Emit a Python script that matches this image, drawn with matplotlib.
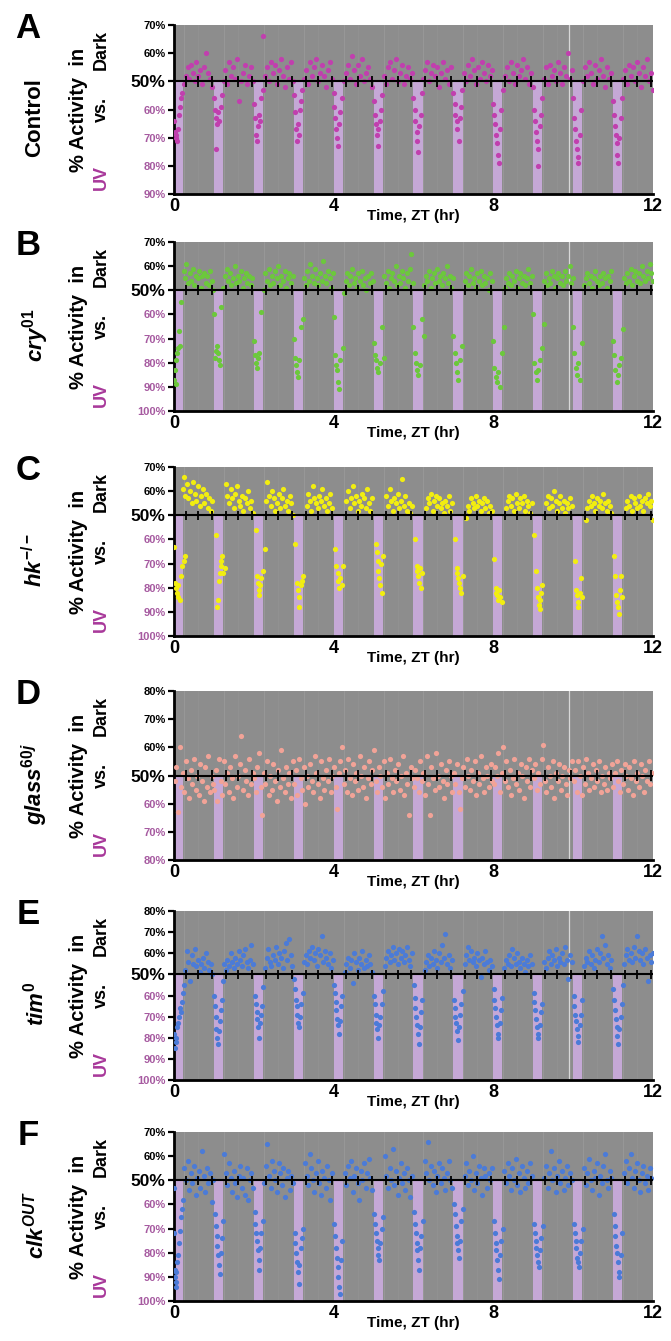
import matplotlib
matplotlib.use('Agg')
import matplotlib.pyplot as plt

plt.rcParams['font.family'] = ['Liberation Sans', 'DejaVu Sans']
plt.rcParams['mathtext.fontset'] = 'custom'
plt.rcParams['mathtext.it'] = 'Liberation Sans:italic:bold'
plt.rcParams['mathtext.rm'] = 'Liberation Sans:bold'
plt.rcParams['mathtext.bf'] = 'Liberation Sans:bold'

# % activity in dark, (time ZT hr, percent)
ctrl_pts = [
    (0.01,36),(0.03,32),(0.04,30),(0.06,31),(0.08,29),(0.10,33),(0.12,38),(0.15,41),(0.18,44),(0.21,46),
    (0.26,49),(0.30,52),(0.34,55),(0.38,51),(0.42,56),(0.47,53),(0.52,50),(0.56,57),(0.61,52),(0.66,54),
    (0.71,49),(0.76,55),(0.81,60),(0.86,53),(0.91,51),(0.96,48),
    (1.00,44),(1.02,40),(1.04,26),(1.06,37),(1.08,35),(1.11,39),(1.14,36),(1.17,41),(1.20,45),
    (1.25,50),(1.29,54),(1.33,49),(1.38,57),(1.43,52),(1.48,55),(1.53,51),(1.58,58),(1.63,43),(1.67,50),
    (1.72,53),(1.77,56),(1.82,49),(1.87,52),(1.92,55),(1.97,50),
    (2.00,42),(2.03,37),(2.05,31),(2.08,29),(2.10,34),(2.13,38),(2.16,36),(2.19,44),(2.22,47),
    (2.23,66),(2.28,52),(2.33,55),(2.37,50),(2.42,57),(2.47,53),(2.52,56),(2.57,49),(2.62,54),(2.67,58),
    (2.72,52),(2.77,48),(2.82,55),(2.87,51),(2.92,57),(2.97,50),
    (3.00,45),(3.02,39),(3.05,33),(3.07,29),(3.10,35),(3.12,31),(3.15,40),(3.18,43),(3.21,47),
    (3.26,51),(3.31,54),(3.36,49),(3.41,57),(3.46,52),(3.51,55),(3.56,58),(3.61,50),(3.66,53),(3.71,56),
    (3.76,52),(3.81,48),(3.86,54),(3.91,57),(3.96,51),
    (4.00,46),(4.02,41),(4.04,37),(4.06,33),(4.09,30),(4.11,27),(4.14,35),(4.17,39),(4.20,44),
    (4.25,50),(4.30,53),(4.35,56),(4.40,51),(4.45,59),(4.50,54),(4.55,49),(4.60,56),(4.65,52),(4.70,58),
    (4.75,50),(4.80,53),(4.85,55),(4.90,51),(4.95,48),
    (5.00,43),(5.03,38),(5.05,35),(5.08,31),(5.10,33),(5.12,27),(5.15,36),(5.18,40),(5.21,45),
    (5.26,52),(5.31,49),(5.36,55),(5.41,57),(5.46,51),(5.51,54),(5.56,58),(5.61,50),(5.66,53),(5.71,56),
    (5.76,49),(5.81,52),(5.86,55),(5.91,51),(5.96,53),
    (6.00,44),(6.03,40),(6.05,36),(6.08,32),(6.10,29),(6.12,25),(6.15,34),(6.18,38),(6.21,46),
    (6.25,51),(6.30,54),(6.35,57),(6.40,50),(6.45,53),(6.50,56),(6.55,52),(6.60,55),(6.65,48),(6.70,53),
    (6.75,57),(6.80,51),(6.85,54),(6.90,49),(6.95,55),
    (7.00,46),(7.03,42),(7.05,38),(7.08,36),(7.10,33),(7.13,29),(7.16,37),(7.19,41),(7.22,47),
    (7.26,53),(7.31,50),(7.36,56),(7.41,52),(7.46,58),(7.51,54),(7.56,49),(7.61,55),(7.66,51),(7.71,57),
    (7.76,53),(7.81,50),(7.86,56),(7.91,52),(7.96,54),
    (8.00,42),(8.03,38),(8.05,35),(8.08,31),(8.10,28),(8.12,24),(8.14,21),(8.17,33),(8.20,40),
    (8.25,47),(8.30,52),(8.35,55),(8.40,50),(8.45,57),(8.50,53),(8.55,49),(8.60,56),(8.65,52),(8.70,54),
    (8.75,58),(8.80,51),(8.85,55),(8.90,49),(8.95,53),
    (9.00,48),(9.02,40),(9.05,36),(9.07,32),(9.09,29),(9.11,26),(9.13,20),(9.16,34),(9.19,38),(9.22,44),
    (9.27,51),(9.32,55),(9.37,49),(9.42,56),(9.47,52),(9.52,54),(9.57,50),(9.62,57),(9.67,53),(9.72,49),
    (9.77,55),(9.82,52),(9.87,60),(9.92,51),(9.97,54),
    (10.00,44),(10.03,37),(10.05,33),(10.07,29),(10.09,26),(10.11,23),(10.13,21),(10.16,31),(10.19,40),
    (10.25,50),(10.30,55),(10.35,52),(10.40,57),(10.45,53),(10.50,49),(10.55,56),(10.60,51),(10.65,54),
    (10.70,58),(10.75,52),(10.80,48),(10.85,55),(10.90,51),(10.95,53),
    (11.00,43),(11.03,38),(11.05,34),(11.07,31),(11.09,28),(11.11,24),(11.13,21),(11.16,30),(11.19,37),
    (11.22,44),(11.26,51),(11.31,54),(11.36,49),(11.41,56),(11.46,52),(11.51,55),(11.56,50),(11.61,57),
    (11.66,53),(11.71,48),(11.76,55),(11.81,52),(11.86,58),(11.91,50),(11.96,53),(11.99,47),
]

cry_pts = [
    (0.01,13),(0.02,17),(0.04,11),(0.06,21),(0.08,24),(0.10,26),(0.12,33),(0.15,27),(0.18,45),
    (0.24,58),(0.28,55),(0.31,61),(0.35,53),(0.39,57),(0.43,54),(0.47,59),(0.51,52),(0.55,56),(0.59,55),
    (0.63,58),(0.67,51),(0.71,56),(0.75,57),(0.79,53),(0.83,56),(0.87,52),(0.91,58),(0.95,54),(0.98,50),
    (1.00,40),(1.03,22),(1.05,25),(1.07,27),(1.10,24),(1.12,21),(1.15,19),(1.19,43),
    (1.24,51),(1.28,56),(1.32,59),(1.36,54),(1.40,57),(1.44,52),(1.48,55),(1.52,60),(1.56,53),(1.60,56),
    (1.64,54),(1.68,58),(1.72,51),(1.76,55),(1.80,57),(1.84,53),(1.88,56),(1.92,52),(1.96,55),
    (2.00,29),(2.03,23),(2.05,20),(2.08,18),(2.11,22),(2.14,24),(2.17,41),
    (2.25,50),(2.29,57),(2.33,54),(2.37,59),(2.41,52),(2.45,56),(2.49,53),(2.53,58),(2.57,55),(2.61,60),
    (2.65,52),(2.69,56),(2.73,54),(2.77,58),(2.81,51),(2.85,55),(2.89,57),(2.93,53),(2.97,56),
    (3.00,30),(3.03,22),(3.05,19),(3.08,16),(3.10,14),(3.14,21),(3.18,35),(3.22,38),
    (3.26,55),(3.30,52),(3.34,58),(3.38,54),(3.42,61),(3.46,56),(3.50,53),(3.54,59),(3.58,55),(3.62,52),
    (3.66,57),(3.70,54),(3.74,62),(3.78,56),(3.82,53),(3.86,58),(3.90,55),(3.94,51),(3.98,57),
    (4.00,39),(4.03,23),(4.05,19),(4.08,17),(4.10,12),(4.13,9),(4.17,21),(4.24,26),
    (4.26,49),(4.30,54),(4.34,57),(4.38,52),(4.42,56),(4.46,59),(4.50,53),(4.54,55),(4.58,51),(4.62,57),
    (4.66,54),(4.70,58),(4.74,52),(4.78,55),(4.82,50),(4.86,56),(4.90,53),(4.94,57),(4.98,54),
    (5.00,28),(5.03,23),(5.05,21),(5.08,18),(5.11,16),(5.15,20),(5.20,35),(5.25,22),
    (5.27,56),(5.31,53),(5.35,58),(5.39,51),(5.43,55),(5.47,57),(5.51,54),(5.55,60),(5.59,52),(5.63,56),
    (5.67,53),(5.71,58),(5.75,55),(5.79,51),(5.83,57),(5.87,54),(5.91,59),(5.95,65),(5.98,53),
    (6.00,35),(6.03,24),(6.06,20),(6.09,17),(6.12,15),(6.16,19),(6.22,38),(6.26,31),
    (6.27,52),(6.31,56),(6.35,54),(6.39,58),(6.43,51),(6.47,55),(6.51,57),(6.55,53),(6.59,59),(6.63,54),
    (6.67,56),(6.71,52),(6.75,57),(6.79,55),(6.83,60),(6.87,53),(6.91,56),(6.95,51),(6.99,55),
    (7.00,31),(7.03,24),(7.06,20),(7.09,16),(7.12,13),(7.16,21),(7.22,27),
    (7.28,54),(7.32,57),(7.36,52),(7.40,56),(7.44,59),(7.48,53),(7.52,55),(7.56,51),(7.60,57),(7.64,54),
    (7.68,58),(7.72,52),(7.76,56),(7.80,53),(7.84,55),(7.88,50),(7.92,57),(7.96,54),
    (8.00,29),(8.03,18),(8.06,14),(8.09,12),(8.12,16),(8.16,10),(8.22,24),(8.28,35),
    (8.30,51),(8.32,55),(8.36,53),(8.40,57),(8.44,52),(8.48,56),(8.52,54),(8.56,58),(8.60,51),(8.64,55),
    (8.68,57),(8.72,53),(8.76,56),(8.80,52),(8.84,55),(8.88,59),(8.92,53),(8.96,56),
    (9.00,40),(9.03,20),(9.06,16),(9.09,13),(9.12,17),(9.16,21),(9.22,26),(9.28,36),
    (9.27,54),(9.31,57),(9.35,52),(9.39,55),(9.43,53),(9.47,58),(9.51,56),(9.55,51),(9.59,55),(9.63,57),
    (9.67,53),(9.71,56),(9.75,52),(9.79,58),(9.83,54),(9.87,56),(9.91,60),(9.95,53),(9.99,55),
    (10.00,35),(10.03,24),(10.06,18),(10.09,15),(10.12,20),(10.16,13),(10.22,28),
    (10.28,52),(10.32,55),(10.36,57),(10.40,53),(10.44,56),(10.48,51),(10.52,55),(10.56,58),(10.60,54),
    (10.64,52),(10.68,56),(10.72,53),(10.76,57),(10.80,55),(10.84,51),(10.88,56),(10.92,54),(10.96,58),
    (11.00,29),(11.03,23),(11.06,17),(11.09,12),(11.12,15),(11.16,19),(11.20,22),(11.25,34),
    (11.28,55),(11.32,53),(11.36,57),(11.40,54),(11.44,59),(11.48,52),(11.52,56),(11.56,58),(11.60,54),
    (11.64,57),(11.68,53),(11.72,60),(11.76,56),(11.80,54),(11.84,58),(11.88,55),(11.92,61),(11.96,57),
    (11.99,54),
]

hk_pts = [
    (0.01,37),(0.03,22),(0.05,20),(0.07,18),(0.09,16),(0.11,21),(0.14,15),(0.18,25),(0.21,29),(0.24,31),
    (0.27,33),
    (0.22,61),(0.25,66),(0.28,58),(0.32,63),(0.36,57),(0.40,60),(0.44,55),(0.48,64),(0.52,59),(0.56,56),
    (0.60,62),(0.64,54),(0.68,58),(0.72,61),(0.76,55),(0.80,59),(0.84,53),(0.88,57),(0.92,52),(0.96,56),
    (1.06,42),(1.09,12),(1.11,15),(1.13,23),(1.15,26),(1.17,29),(1.19,31),(1.21,33),(1.24,26),(1.27,28),
    (1.30,63),(1.34,58),(1.38,55),(1.42,61),(1.46,57),(1.50,53),(1.54,59),(1.58,62),(1.62,56),(1.66,54),
    (1.70,58),(1.74,52),(1.78,57),(1.82,55),(1.86,60),(1.90,53),(1.94,56),(1.98,51),
    (2.05,44),(2.08,25),(2.10,22),(2.12,19),(2.14,17),(2.16,21),(2.18,24),(2.22,27),(2.28,36),
    (2.30,56),(2.34,64),(2.38,58),(2.42,54),(2.46,60),(2.50,57),(2.54,52),(2.58,55),(2.62,59),(2.66,53),
    (2.70,57),(2.74,61),(2.78,54),(2.82,56),(2.86,52),(2.90,58),(2.94,55),(2.98,50),
    (3.04,38),(3.07,22),(3.10,19),(3.12,16),(3.14,12),(3.17,21),(3.20,23),(3.24,25),
    (3.32,54),(3.36,59),(3.40,56),(3.44,52),(3.48,62),(3.52,57),(3.56,55),(3.60,53),(3.64,58),(3.68,56),
    (3.72,61),(3.76,54),(3.80,57),(3.84,52),(3.88,55),(3.92,59),(3.96,53),
    (4.03,36),(4.07,29),(4.10,26),(4.12,23),(4.14,20),(4.17,24),(4.20,21),(4.24,29),
    (4.32,56),(4.36,60),(4.40,53),(4.44,57),(4.48,62),(4.52,55),(4.56,58),(4.60,52),(4.64,56),(4.68,54),
    (4.72,59),(4.76,57),(4.80,53),(4.84,61),(4.88,55),(4.92,52),(4.96,57),
    (5.05,38),(5.08,35),(5.10,31),(5.12,27),(5.14,24),(5.16,21),(5.18,30),(5.20,18),(5.23,33),
    (5.32,58),(5.36,54),(5.40,61),(5.44,56),(5.48,52),(5.52,57),(5.56,55),(5.60,59),(5.64,53),(5.68,56),
    (5.72,65),(5.76,54),(5.80,58),(5.84,52),(5.88,55),(5.92,51),(5.96,54),
    (6.05,40),(6.08,29),(6.10,27),(6.12,25),(6.14,22),(6.16,28),(6.19,20),(6.22,26),
    (6.32,53),(6.36,57),(6.40,55),(6.44,59),(6.48,52),(6.52,56),(6.56,58),(6.60,54),(6.64,57),(6.68,53),
    (6.72,55),(6.76,51),(6.80,56),(6.84,54),(6.88,58),(6.92,52),(6.96,55),
    (7.05,40),(7.08,28),(7.10,26),(7.12,24),(7.14,22),(7.17,20),(7.20,18),(7.24,25),
    (7.32,49),(7.36,54),(7.40,52),(7.44,57),(7.48,55),(7.52,53),(7.56,58),(7.60,54),(7.64,56),(7.68,52),
    (7.72,55),(7.76,57),(7.80,53),(7.84,56),(7.88,51),(7.92,54),(7.96,52),
    (8.03,32),(8.06,20),(8.08,18),(8.10,17),(8.12,15),(8.15,19),(8.18,16),(8.22,14),
    (8.32,53),(8.36,56),(8.40,58),(8.44,54),(8.48,57),(8.52,52),(8.56,59),(8.60,55),(8.64,53),(8.68,57),
    (8.72,55),(8.76,58),(8.80,52),(8.84,56),(8.88,54),(8.92,51),(8.96,55),
    (9.03,42),(9.06,27),(9.09,20),(9.12,16),(9.14,13),(9.16,11),(9.18,15),(9.20,18),(9.22,21),
    (9.32,55),(9.36,58),(9.40,53),(9.44,57),(9.48,54),(9.52,60),(9.56,56),(9.60,52),(9.64,55),(9.68,58),
    (9.72,53),(9.76,56),(9.80,51),(9.84,55),(9.88,53),(9.92,57),(9.96,54),
    (10.04,31),(10.07,19),(10.09,17),(10.11,14),(10.13,12),(10.16,18),(10.19,24),(10.22,16),
    (10.32,48),(10.36,53),(10.40,56),(10.44,54),(10.48,58),(10.52,55),(10.56,52),(10.60,57),(10.64,54),
    (10.68,56),(10.72,53),(10.76,59),(10.80,55),(10.84,52),(10.88,56),(10.92,54),(10.96,51),
    (11.03,33),(11.06,25),(11.08,17),(11.10,14),(11.12,12),(11.14,9),(11.17,19),(11.20,25),(11.23,16),
    (11.32,53),(11.36,56),(11.40,54),(11.44,58),(11.48,52),(11.52,57),(11.56,55),(11.60,53),(11.64,58),
    (11.68,54),(11.72,56),(11.76,52),(11.80,57),(11.84,55),(11.88,59),(11.92,54),(11.96,56),(11.99,48),
]

glass_pts = [
    (0.02,48),(0.06,53),(0.10,37),(0.14,60),(0.18,46),(0.22,51),(0.26,44),(0.30,55),(0.34,49),(0.38,42),
    (0.42,52),(0.46,47),(0.50,56),(0.54,45),(0.58,50),(0.62,43),(0.66,54),(0.70,48),(0.74,41),(0.78,53),
    (0.82,46),(0.86,57),(0.90,44),(0.94,50),(0.98,47),
    (1.01,45),(1.05,52),(1.09,41),(1.13,56),(1.17,48),(1.21,43),(1.25,55),(1.29,47),(1.33,51),(1.37,44),
    (1.41,53),(1.45,49),(1.49,42),(1.53,57),(1.57,46),(1.61,50),(1.65,54),(1.69,64),(1.73,45),(1.77,52),
    (1.81,48),(1.85,43),(1.89,56),(1.93,47),(1.97,51),
    (2.01,49),(2.05,44),(2.09,53),(2.13,58),(2.17,46),(2.21,36),(2.25,51),(2.29,47),(2.33,55),(2.37,43),
    (2.41,50),(2.45,45),(2.49,54),(2.53,48),(2.57,41),(2.61,52),(2.65,46),(2.69,59),(2.73,49),(2.77,44),
    (2.81,53),(2.85,47),(2.89,51),(2.93,42),(2.97,55),
    (3.01,47),(3.05,52),(3.09,43),(3.13,56),(3.17,49),(3.21,45),(3.25,53),(3.29,40),(3.33,50),(3.37,46),
    (3.41,54),(3.45,48),(3.49,44),(3.53,57),(3.57,51),(3.61,47),(3.65,42),(3.69,55),(3.73,49),(3.77,45),
    (3.81,52),(3.85,48),(3.89,56),(3.93,44),(3.97,50),
    (4.01,53),(4.05,46),(4.09,38),(4.13,51),(4.17,55),(4.21,60),(4.25,47),(4.29,52),(4.33,44),(4.37,56),
    (4.41,49),(4.45,43),(4.49,54),(4.53,48),(4.57,51),(4.61,45),(4.65,57),(4.69,50),(4.73,46),(4.77,53),
    (4.81,42),(4.85,49),(4.89,55),(4.93,47),(4.97,52),
    (5.01,59),(5.05,48),(5.09,44),(5.13,53),(5.17,50),(5.21,46),(5.25,55),(5.29,42),(5.33,51),(5.37,47),
    (5.41,56),(5.45,49),(5.49,44),(5.53,52),(5.57,48),(5.61,54),(5.65,45),(5.69,50),(5.73,57),(5.77,43),
    (5.81,51),(5.85,47),(5.89,36),(5.93,53),(5.97,49),
    (6.01,46),(6.05,52),(6.09,49),(6.13,44),(6.17,55),(6.21,48),(6.25,51),(6.29,43),(6.33,57),(6.37,47),
    (6.41,36),(6.45,53),(6.49,49),(6.53,45),(6.57,58),(6.61,50),(6.65,46),(6.69,54),(6.73,48),(6.77,42),
    (6.81,52),(6.85,47),(6.89,55),(6.93,50),(6.97,44),
    (7.01,51),(7.05,47),(7.09,54),(7.13,44),(7.17,38),(7.21,49),(7.25,53),(7.29,46),(7.33,56),(7.37,50),
    (7.41,45),(7.45,52),(7.49,48),(7.53,55),(7.57,43),(7.61,51),(7.65,47),(7.69,57),(7.73,49),(7.77,44),
    (7.81,53),(7.85,50),(7.89,46),(7.93,54),(7.97,48),
    (8.01,47),(8.05,53),(8.09,50),(8.13,58),(8.17,44),(8.21,51),(8.25,60),(8.29,48),(8.33,55),(8.37,46),
    (8.41,52),(8.45,43),(8.49,49),(8.53,56),(8.57,47),(8.61,51),(8.65,45),(8.69,54),(8.73,50),(8.77,42),
    (8.81,53),(8.85,48),(8.89,56),(8.93,46),(8.97,52),
    (9.01,49),(9.05,54),(9.09,45),(9.13,51),(9.17,47),(9.21,56),(9.25,61),(9.29,48),(9.33,44),(9.37,53),
    (9.41,50),(9.45,46),(9.49,55),(9.53,42),(9.57,51),(9.61,48),(9.65,54),(9.69,45),(9.73,50),(9.77,53),
    (9.81,47),(9.85,43),(9.89,52),(9.93,49),(9.97,55),
    (10.01,48),(10.05,52),(10.09,44),(10.13,55),(10.17,50),(10.21,43),(10.25,53),(10.29,47),(10.33,56),
    (10.37,51),(10.41,45),(10.45,49),(10.49,54),(10.53,46),(10.57,52),(10.61,48),(10.65,55),(10.69,44),
    (10.73,50),(10.77,47),(10.81,53),(10.85,45),(10.89,51),(10.93,49),(10.97,54),
    (11.01,46),(11.05,51),(11.09,55),(11.13,48),(11.17,44),(11.21,52),(11.25,47),(11.29,54),(11.33,50),
    (11.37,45),(11.41,53),(11.45,49),(11.49,43),(11.53,55),(11.57,48),(11.61,51),(11.65,46),(11.69,54),
    (11.73,50),(11.77,44),(11.81,52),(11.85,48),(11.89,55),(11.93,47),(11.97,51),
]

tim_pts = [
    (0.01,22),(0.02,15),(0.04,18),(0.06,20),(0.08,25),(0.10,27),(0.12,30),(0.14,34),(0.17,32),(0.20,37),
    (0.23,41),(0.26,45),
    (0.28,52),(0.32,61),(0.36,56),(0.40,47),(0.44,59),(0.48,55),(0.52,62),(0.56,54),(0.60,57),(0.64,51),
    (0.68,55),(0.72,58),(0.76,53),(0.80,60),(0.84,56),(0.88,52),(0.92,55),(0.96,50),
    (1.00,40),(1.02,35),(1.04,30),(1.06,24),(1.08,20),(1.10,17),(1.12,23),(1.15,28),(1.18,33),(1.21,38),
    (1.24,47),
    (1.26,55),(1.30,52),(1.34,57),(1.38,54),(1.42,60),(1.46,56),(1.50,53),(1.54,58),(1.58,55),(1.62,61),
    (1.66,57),(1.70,54),(1.74,59),(1.78,62),(1.82,56),(1.86,53),(1.90,57),(1.94,64),(1.98,55),
    (2.03,40),(2.05,36),(2.07,32),(2.09,29),(2.11,25),(2.13,20),(2.15,27),(2.18,31),(2.21,35),(2.24,44),
    (2.28,53),(2.32,58),(2.36,62),(2.40,56),(2.44,54),(2.48,59),(2.52,57),(2.56,63),(2.60,55),(2.64,60),
    (2.68,58),(2.72,53),(2.76,61),(2.80,65),(2.84,57),(2.88,67),(2.92,59),(2.96,54),
    (3.01,48),(3.03,43),(3.05,38),(3.07,35),(3.09,31),(3.11,27),(3.13,25),(3.16,30),(3.19,36),(3.22,41),
    (3.26,56),(3.30,59),(3.34,55),(3.38,61),(3.42,58),(3.46,63),(3.50,57),(3.54,60),(3.58,54),(3.62,62),
    (3.66,59),(3.70,68),(3.74,56),(3.78,61),(3.82,58),(3.86,55),(3.90,60),(3.94,53),(3.98,57),
    (4.01,45),(4.03,41),(4.05,37),(4.07,33),(4.09,29),(4.11,26),(4.13,22),(4.16,28),(4.19,35),(4.22,40),
    (4.28,51),(4.32,55),(4.36,58),(4.40,53),(4.44,57),(4.48,46),(4.52,60),(4.56,56),(4.60,52),(4.64,58),
    (4.68,55),(4.72,61),(4.76,53),(4.80,57),(4.84,54),(4.88,59),(4.92,55),(4.96,51),
    (5.01,40),(5.03,36),(5.05,31),(5.07,27),(5.09,24),(5.11,20),(5.14,26),(5.17,30),(5.20,36),(5.23,42),
    (5.28,54),(5.32,58),(5.36,61),(5.40,56),(5.44,59),(5.48,63),(5.52,57),(5.56,60),(5.60,55),(5.64,62),
    (5.68,58),(5.72,61),(5.76,56),(5.80,59),(5.84,63),(5.88,57),(5.92,54),(5.96,60),
    (6.01,45),(6.03,39),(6.05,34),(6.07,30),(6.09,26),(6.11,22),(6.13,17),(6.16,25),(6.19,32),(6.22,38),
    (6.28,52),(6.32,56),(6.36,59),(6.40,54),(6.44,58),(6.48,55),(6.52,61),(6.56,57),(6.60,53),(6.64,60),
    (6.68,56),(6.72,64),(6.76,58),(6.80,69),(6.84,55),(6.88,59),(6.92,53),(6.96,57),
    (7.01,38),(7.03,34),(7.05,30),(7.07,27),(7.09,23),(7.11,19),(7.14,25),(7.17,31),(7.20,36),(7.23,42),
    (7.28,55),(7.32,59),(7.36,63),(7.40,57),(7.44,61),(7.48,56),(7.52,58),(7.56,54),(7.60,60),(7.64,57),
    (7.68,49),(7.72,58),(7.76,55),(7.80,61),(7.84,56),(7.88,52),(7.92,57),(7.96,54),
    (8.01,43),(8.03,38),(8.05,34),(8.07,30),(8.09,26),(8.11,22),(8.13,20),(8.16,27),(8.19,33),(8.22,39),
    (8.28,53),(8.32,57),(8.36,55),(8.40,59),(8.44,54),(8.48,62),(8.52,58),(8.56,55),(8.60,60),(8.64,56),
    (8.68,53),(8.72,58),(8.76,55),(8.80,51),(8.84,57),(8.88,54),(8.92,59),(8.96,55),
    (9.01,41),(9.03,37),(9.05,33),(9.07,29),(9.09,25),(9.11,22),(9.13,20),(9.16,26),(9.19,32),(9.22,36),
    (9.28,56),(9.32,53),(9.36,58),(9.40,61),(9.44,55),(9.48,59),(9.52,57),(9.56,62),(9.60,54),(9.64,58),
    (9.68,56),(9.72,60),(9.76,55),(9.80,63),(9.84,57),(9.88,48),(9.92,59),(9.96,56),
    (10.01,40),(10.03,35),(10.05,31),(10.07,28),(10.09,24),(10.11,21),(10.13,18),(10.16,26),(10.19,31),
    (10.22,38),
    (10.28,54),(10.32,58),(10.36,56),(10.40,61),(10.44,55),(10.48,59),(10.52,53),(10.56,57),(10.60,62),
    (10.64,56),(10.68,60),(10.72,68),(10.76,58),(10.80,64),(10.84,55),(10.88,59),(10.92,53),(10.96,57),
    (11.01,43),(11.03,38),(11.05,33),(11.07,29),(11.09,25),(11.11,21),(11.13,17),(11.16,24),(11.19,30),
    (11.22,36),(11.25,45),
    (11.28,55),(11.32,59),(11.36,62),(11.40,57),(11.44,60),(11.48,56),(11.52,63),(11.56,58),(11.60,68),
    (11.64,61),(11.68,57),(11.72,60),(11.76,55),(11.80,62),(11.84,58),(11.88,47),(11.92,59),(11.96,56),
    (11.99,60),
]

clk_pts = [
    (0.00,47),(0.01,28),(0.02,13),(0.03,10),(0.04,8),(0.05,6),(0.06,12),(0.08,16),(0.10,19),(0.12,24),
    (0.14,29),(0.17,35),(0.20,38),(0.23,42),
    (0.26,55),(0.30,50),(0.34,58),(0.38,46),(0.42,53),(0.46,49),(0.50,56),(0.54,44),(0.58,51),(0.62,54),
    (0.66,47),(0.70,62),(0.74,52),(0.78,45),(0.82,55),(0.86,49),(0.90,53),(0.94,41),(0.98,50),
    (1.03,36),(1.05,31),(1.07,27),(1.09,23),(1.11,19),(1.13,15),(1.15,11),(1.17,20),(1.20,26),(1.24,33),
    (1.26,61),(1.30,53),(1.34,48),(1.38,57),(1.42,51),(1.46,45),(1.50,54),(1.54,49),(1.58,43),(1.62,52),
    (1.66,56),(1.70,47),(1.74,51),(1.78,44),(1.82,55),(1.86,42),(1.90,50),(1.94,53),(1.98,47),
    (2.02,37),(2.04,32),(2.06,28),(2.08,25),(2.10,21),(2.12,17),(2.14,13),(2.16,22),(2.19,28),(2.23,33),
    (2.26,49),(2.30,56),(2.34,65),(2.38,52),(2.42,47),(2.46,58),(2.50,54),(2.54,50),(2.58,45),(2.62,57),
    (2.66,53),(2.70,48),(2.74,55),(2.78,43),(2.82,51),(2.86,54),(2.90,46),(2.94,52),(2.98,49),
    (3.02,28),(3.04,24),(3.06,20),(3.08,16),(3.10,12),(3.12,7),(3.14,15),(3.17,22),(3.20,26),(3.24,30),
    (3.28,57),(3.32,52),(3.36,48),(3.40,61),(3.44,55),(3.48,50),(3.52,45),(3.56,53),(3.60,58),(3.64,49),
    (3.68,44),(3.72,54),(3.76,51),(3.80,47),(3.84,56),(3.88,50),(3.92,42),(3.96,53),
    (4.02,32),(4.04,27),(4.06,22),(4.08,18),(4.10,14),(4.12,10),(4.14,6),(4.16,3),(4.18,17),(4.22,25),
    (4.28,53),(4.32,48),(4.36,56),(4.40,51),(4.44,58),(4.48,45),(4.52,52),(4.56,55),(4.60,49),(4.64,42),
    (4.68,54),(4.72,50),(4.76,57),(4.80,47),(4.84,53),(4.88,59),(4.92,51),(4.96,46),
    (5.02,36),(5.04,32),(5.06,28),(5.08,25),(5.10,22),(5.12,19),(5.14,17),(5.17,24),(5.20,30),(5.24,35),
    (5.28,60),(5.32,52),(5.36,47),(5.40,55),(5.44,50),(5.48,63),(5.52,48),(5.56,54),(5.60,44),(5.64,51),
    (5.68,57),(5.72,49),(5.76,53),(5.80,46),(5.84,55),(5.88,50),(5.92,43),(5.96,52),
    (6.02,37),(6.04,32),(6.06,28),(6.08,24),(6.10,21),(6.12,17),(6.14,13),(6.17,22),(6.20,27),(6.24,33),
    (6.28,58),(6.32,53),(6.36,66),(6.40,50),(6.44,56),(6.48,48),(6.52,54),(6.56,45),(6.60,52),(6.64,57),
    (6.68,49),(6.72,55),(6.76,51),(6.80,46),(6.84,53),(6.88,58),(6.92,50),(6.96,47),
    (7.02,40),(7.04,36),(7.06,31),(7.08,27),(7.10,24),(7.12,21),(7.14,18),(7.17,25),(7.20,33),(7.24,38),
    (7.28,52),(7.32,57),(7.36,48),(7.40,54),(7.44,50),(7.48,60),(7.52,46),(7.56,53),(7.60,49),(7.64,56),
    (7.68,51),(7.72,44),(7.76,55),(7.80,52),(7.84,47),(7.88,53),(7.92,50),(7.96,55),
    (8.02,33),(8.04,28),(8.06,24),(8.08,21),(8.10,17),(8.12,13),(8.14,9),(8.17,19),(8.20,25),(8.24,30),
    (8.28,54),(8.32,49),(8.36,57),(8.40,52),(8.44,46),(8.48,55),(8.52,50),(8.56,59),(8.60,48),(8.64,53),
    (8.68,45),(8.72,56),(8.76,51),(8.80,47),(8.84,54),(8.88,49),(8.92,57),(8.96,52),
    (9.02,32),(9.04,28),(9.06,25),(9.08,22),(9.10,19),(9.12,16),(9.14,14),(9.17,21),(9.20,26),(9.24,31),
    (9.28,51),(9.32,56),(9.36,47),(9.40,53),(9.44,62),(9.48,50),(9.52,55),(9.56,45),(9.60,52),(9.64,58),
    (9.68,49),(9.72,54),(9.76,46),(9.80,51),(9.84,56),(9.88,48),(9.92,53),(9.96,50),
    (10.02,32),(10.04,28),(10.06,25),(10.08,22),(10.10,18),(10.12,16),(10.14,14),(10.17,20),(10.20,25),
    (10.24,30),
    (10.28,55),(10.32,48),(10.36,53),(10.40,59),(10.44,50),(10.48,46),(10.52,54),(10.56,51),(10.60,57),
    (10.64,44),(10.68,52),(10.72,49),(10.76,56),(10.80,61),(10.84,50),(10.88,47),(10.92,54),(10.96,51),
    (11.02,36),(11.04,31),(11.06,27),(11.08,23),(11.10,20),(11.12,16),(11.14,12),(11.16,10),(11.19,19),
    (11.23,28),
    (11.28,53),(11.32,58),(11.36,49),(11.40,55),(11.44,61),(11.48,51),(11.52,47),(11.56,54),(11.60,57),
    (11.64,50),(11.68,45),(11.72,53),(11.76,56),(11.80,49),(11.84,52),(11.88,46),(11.92,55),(11.96,51),
]

# UV pulse onsets (hr) and pulse length
uv_on = [0, 1, 2, 3, 4, 5, 6, 7, 8, 9, 10, 11]
uv_len = 0.23
# mean +/- error markers on the 50% line
err_t = [0.3, 0.6, 0.95, 1.3, 1.6, 1.95, 2.3, 2.6, 2.95, 3.3, 3.6, 3.95, 4.3, 4.6, 4.95,
         5.3, 5.6, 5.95, 6.3, 6.6, 6.95, 7.3, 7.6, 7.95, 8.3, 8.6, 8.95, 9.3, 9.6, 9.95,
         10.3, 10.6, 10.95, 11.3, 11.6, 11.95]
err_mean = 50
err_sd = 2

letters = ['A', 'B', 'C', 'D', 'E', 'F']
genotypes = ['Control', r'$\mathit{cry}^{\mathit{01}}$', r'$\mathit{hk}^{\mathit{-/-}}$',
             r'$\mathit{glass}^{\mathit{60j}}$', r'$\mathit{tim}^{\mathit{0}}$',
             r'$\mathit{clk}^{\mathit{OUT}}$']
datasets = [ctrl_pts, cry_pts, hk_pts, glass_pts, tim_pts, clk_pts]
dot_colors = ['#c13fae', '#6cc83c', '#f2ee10', '#f2a397', '#4b7bd8', '#4b7bd8']
y_ranges = [(10, 70), (0, 70), (0, 70), (20, 80), (0, 80), (0, 70)]

UV_TXT = '#a8389a'
UV_TICK = '#a65aa0'
BG = '#8d8d8d'
STRIP = '#c5a8d6'

fig = plt.figure(figsize=(6.71, 13.41), dpi=100)
bottoms = [0.8553, 0.6935, 0.5257, 0.3587, 0.1946, 0.0298]

for i in range(6):
    ylo, yhi = y_ranges[i]
    ax = fig.add_axes([0.2593, bottoms[i], 0.7138, 0.126])
    ax.set_facecolor(BG)
    ax.set_xlim(0, 12)
    ax.set_ylim(ylo, yhi)

    # UV pulses: lavender strips from the floor up to 50%
    ax.bar(uv_on, [50 - ylo] * len(uv_on), width=uv_len, bottom=ylo, align='edge',
           color=STRIP, zorder=1, linewidth=0)
    for s in uv_on:
        ax.axvline(s + uv_len + 0.02, color='#999999', lw=0.6, zorder=0.5)
        ax.axvline(s + 0.6, color='#939393', lw=0.5, zorder=0.5)
    if i != 2 and i != 5:
        ax.axvline(9.9, color='#d8d8d8', lw=0.9, zorder=0.6)

    t = [p[0] for p in datasets[i]]
    v = [p[1] for p in datasets[i]]
    ax.scatter(t, v, s=14, color=dot_colors[i], linewidths=0, zorder=3)

    ax.axhline(err_mean, color='black', lw=1.5, zorder=4)
    ax.errorbar(err_t, [err_mean] * len(err_t), yerr=err_sd, fmt='none',
                ecolor='black', elinewidth=1.3, zorder=4)

    ticks = list(range(ylo, yhi + 1, 10))
    ax.set_yticks(ticks)
    labs = [f'{v_}%' if v_ >= 50 else f'{100 - v_}%' for v_ in ticks]
    ax.set_yticklabels(labs)
    for v_, tl in zip(ticks, ax.get_yticklabels()):
        tl.set_fontweight('bold')
        if v_ == 50:
            tl.set_fontsize(12.5)
            tl.set_color('black')
        elif v_ > 50:
            tl.set_fontsize(8)
            tl.set_color('black')
        else:
            tl.set_fontsize(8)
            tl.set_color(UV_TICK)
    ax.tick_params(axis='y', direction='out', length=4, width=1.6, pad=2)

    ax.set_xticks([0, 4, 8, 12])
    ax.set_xticklabels(['0', '4', '8', '12'], fontsize=13, fontweight='bold')
    ax.tick_params(axis='x', length=0, pad=3)
    for sp in ['top', 'right']:
        ax.spines[sp].set_visible(False)
    for sp in ['left', 'bottom']:
        ax.spines[sp].set_linewidth(2)
        ax.spines[sp].set_color('black')

    ax.text(0.5, -0.13, 'Time, ZT (hr)', transform=ax.transAxes, ha='center', va='center',
            fontsize=11, fontweight='bold')

    # y label, two rotated lines
    ax.text(-0.2, 0.5, '% Activity  in', transform=ax.transAxes, rotation=90,
            ha='center', va='center', fontsize=14.5, fontweight='bold')
    ax.text(-0.152, 0.1, 'UV', transform=ax.transAxes, rotation=90,
            ha='center', va='center', fontsize=13, fontweight='bold', color=UV_TXT)
    ax.text(-0.152, 0.5, 'vs.', transform=ax.transAxes, rotation=90,
            ha='center', va='center', fontsize=13, fontweight='bold')
    ax.text(-0.152, 0.85, 'Dark', transform=ax.transAxes, rotation=90,
            ha='center', va='center', fontsize=13, fontweight='bold')

    ax.text(-0.305, 0.98, letters[i], transform=ax.transAxes, ha='center', va='center',
            fontsize=25, fontweight='bold')
    ax.text(-0.29, 0.45, genotypes[i], transform=ax.transAxes, rotation=90,
            ha='center', va='center', fontsize=16, fontweight='bold')

fig.savefig('out.png', dpi=100)
